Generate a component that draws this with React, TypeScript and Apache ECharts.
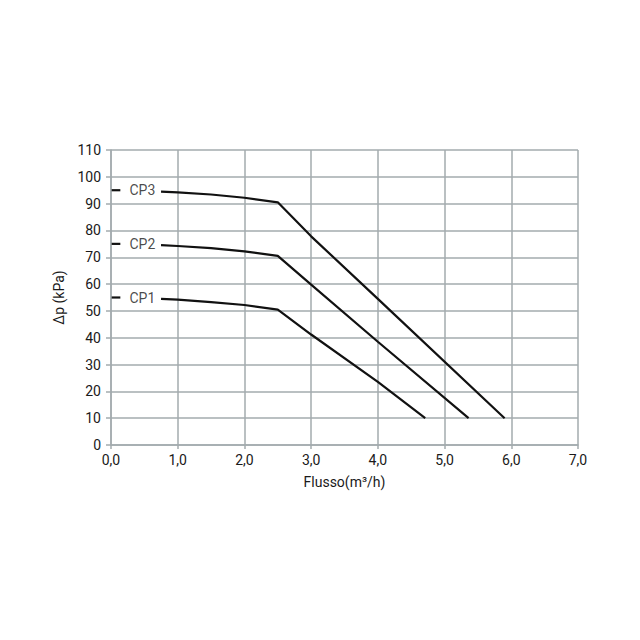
import React, { useEffect, useRef } from "react";
import * as echarts from "echarts";

const seriesNames = ["CP1", "CP2", "CP3"];
const cp1: [number, number][] = [[0.75, 54.5], [1.0, 54.2], [1.5, 53.3], [2.0, 52.2], [2.5, 50.5], [3.0, 41.2], [4.0, 23.5], [4.71, 10]];
const cp2: [number, number][] = [[0.75, 74.5], [1.0, 74.2], [1.5, 73.4], [2.0, 72.2], [2.5, 70.5], [3.0, 59.8], [4.0, 38.5], [5.36, 10]];
const cp3: [number, number][] = [[0.75, 94.5], [1.0, 94.2], [1.5, 93.4], [2.0, 92.2], [2.5, 90.5], [3.0, 77.8], [4.0, 54.5], [5.9, 10]];
const dashes: [number, number][][] = [[[0.01, 55], [0.14, 55]], [[0.01, 75], [0.14, 75]], [[0.01, 95], [0.14, 95]]];
const labelPos: [number, number][] = [[0.47, 55], [0.47, 75], [0.47, 95]];
const xTicks = [0, 1, 2, 3, 4, 5, 6, 7];
const yMax = 110;

export default function App() {
  const ref = useRef<HTMLDivElement>(null);
  useEffect(() => {
    const chart = echarts.init(ref.current!, undefined, { renderer: "svg" });
    const font = "Roboto, 'Noto Sans', sans-serif";
    const curves = [cp1, cp2, cp3];
    const series: any[] = [];
    curves.forEach((c, i) => {
      series.push({
        name: seriesNames[i],
        type: "line",
        data: c,
        showSymbol: false,
        smooth: false,
        lineStyle: { color: "#111", width: 2.2 },
      });
      series.push({
        type: "line",
        data: dashes[i],
        showSymbol: false,
        lineStyle: { color: "#111", width: 2.2 },
      });
    });
    series.push({
      type: "scatter",
      symbolSize: 0,
      data: labelPos.map((p, i) => [p[0], p[1], seriesNames[i]]),
      label: {
        show: true,
        position: "inside",
        formatter: (p: any) => p.value[2],
        color: "#1a1a1a",
        fontSize: 14,
        fontFamily: font,
      },
    });
    chart.setOption({
      animation: false,
      backgroundColor: "#fff",
      grid: { left: 103, right: 54, top: 142, bottom: 187, containLabel: false },
      xAxis: {
        type: "value",
        min: 0,
        max: xTicks[xTicks.length - 1],
        interval: 1,
        name: "Flusso(m³/h)",
        nameLocation: "middle",
        nameGap: 30,
        nameTextStyle: { color: "#1a1a1a", fontSize: 14, fontFamily: font },
        axisLine: { show: true, lineStyle: { color: "#a3abae", width: 1.5 } },
        axisTick: { show: true, length: 4, lineStyle: { color: "#a3abae", width: 1.5 } },
        splitLine: { show: true, lineStyle: { color: "#a3abae", width: 1.5 } },
        axisLabel: {
          color: "#1a1a1a",
          fontSize: 14,
          fontFamily: font,
          margin: 8,
          formatter: (v: number) => v.toFixed(1).replace(".", ","),
        },
      },
      yAxis: {
        type: "value",
        min: 0,
        max: yMax,
        interval: 10,
        name: "Δp (kPa)",
        nameLocation: "middle",
        nameGap: 42,
        nameTextStyle: { color: "#1a1a1a", fontSize: 14, fontFamily: font },
        axisLine: { show: true, lineStyle: { color: "#a3abae", width: 1.5 } },
        axisTick: { show: true, length: 5, lineStyle: { color: "#a3abae", width: 1.5 } },
        splitLine: { show: true, lineStyle: { color: "#a3abae", width: 1.5 } },
        axisLabel: { color: "#1a1a1a", fontSize: 14, fontFamily: font, margin: 10 },
      },
      series,
    });
    return () => chart.dispose();
  }, []);
  return <div ref={ref} style={{ width: 624, height: 624 }} />;
}
